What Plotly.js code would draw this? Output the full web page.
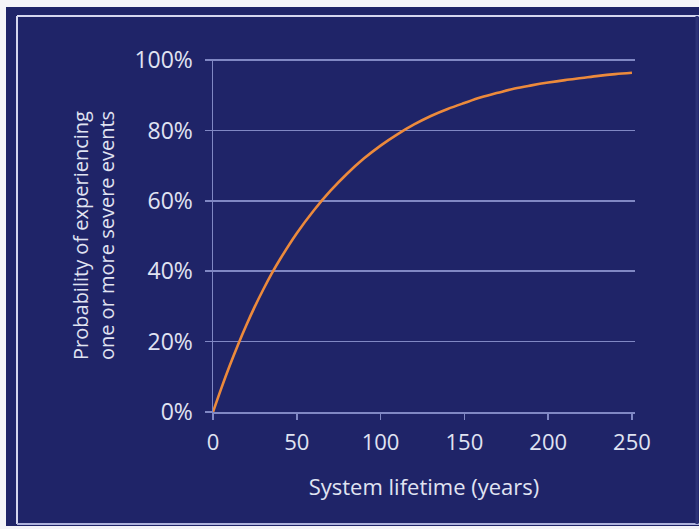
<!DOCTYPE html>
<html>
<head>
<meta charset="utf-8">
<script src="https://cdn.plot.ly/plotly-3.0.1.min.js"></script>
<style>
  html, body { margin: 0; padding: 0; background: #f4f4f8; width: 699px; height: 529px; overflow: hidden; }
  #chart { position: absolute; left: 6px; top: 7px; width: 693px; height: 519px; }
</style>
</head>
<body>
<div id="chart"></div>
<script>
// Values
const lifetimeYears = [0, 5, 10, 15, 20, 25, 30, 35, 40, 50, 60, 70, 80, 90, 100,
  110, 120, 130, 140, 150, 160, 170, 180, 190, 200, 210, 220, 230, 240, 250];
const probability = [0, 0.068, 0.132, 0.192, 0.248, 0.300, 0.348, 0.393, 0.434, 0.508,
  0.572, 0.628, 0.677, 0.720, 0.757, 0.789, 0.817, 0.841, 0.861, 0.878, 0.894, 0.907,
  0.919, 0.928, 0.936, 0.943, 0.949, 0.955, 0.960, 0.964];
const xTickVals = [0, 50, 100, 150, 200, 250];
const yTickVals = [0, 0.2, 0.4, 0.6, 0.8, 1.0];
const yTickText = ['0%', '20%', '40%', '60%', '80%', '100%'];
const xTitle = 'System lifetime (years)';
const yTitle = 'Probability of experiencing<br>one or more severe events';

const navy = '#1f2468';
const gridCol = '#8088c4';
const textCol = '#e0e3f2';
const W = 693, H = 519;
const M = { l: 207, r: 64, t: 52, b: 114 };
const pw = W - M.l - M.r, ph = H - M.t - M.b;
// frame line position (div pixels) -> paper coords
const px = v => (v - M.l) / pw;
const py = v => (H - M.b - v) / ph;
const frameL = 11, frameT = 9, frameB = 517, frameR = 691;

const trace = {
  x: lifetimeYears,
  y: probability,
  type: 'scatter',
  mode: 'lines',
  line: { color: '#ec8a3c', width: 2.6, shape: 'spline', smoothing: 1 },
  hoverinfo: 'x+y'
};

const layout = {
  width: W, height: H,
  margin: M,
  paper_bgcolor: navy,
  plot_bgcolor: navy,
  showlegend: false,
  font: { family: 'Open Sans, sans-serif', color: textCol, size: 22 },
  xaxis: {
    range: [0, 251.8],
    tickvals: xTickVals,
    ticktext: xTickVals.map(String),
    showgrid: false,
    zeroline: false,
    showline: true,
    linecolor: gridCol,
    linewidth: 1.5,
    ticks: 'outside',
    ticklen: 6,
    tickwidth: 1.5,
    tickcolor: gridCol,
    tickfont: { size: 22, color: textCol },
    ticklabelstandoff: 4,
    title: { text: xTitle, font: { size: 22, color: textCol }, standoff: 24 },
    fixedrange: true
  },
  yaxis: {
    range: [0, 1.003],
    tickvals: yTickVals,
    ticktext: yTickText,
    showgrid: true,
    gridcolor: gridCol,
    gridwidth: 1.5,
    zeroline: false,
    showline: true,
    linecolor: gridCol,
    linewidth: 1.5,
    ticks: 'outside',
    ticklen: 7,
    tickwidth: 1.5,
    tickcolor: gridCol,
    tickfont: { size: 23, color: textCol },
    ticklabelstandoff: 7,
    title: { text: yTitle, font: { size: 20, color: textCol }, standoff: 14 },
    fixedrange: true
  },
  shapes: [
    { type: 'line', xref: 'paper', yref: 'paper', x0: px(frameL), x1: px(frameL), y0: py(frameT), y1: py(frameB), line: { color: '#d4d6ee', width: 2 } },
    { type: 'line', xref: 'paper', yref: 'paper', x0: px(frameL), x1: px(W + 2), y0: py(frameT), y1: py(frameT), line: { color: '#d4d6ee', width: 2 } },
    { type: 'line', xref: 'paper', yref: 'paper', x0: px(frameL), x1: px(W + 2), y0: py(frameB), y1: py(frameB), line: { color: '#aeb2dc', width: 2 } },
    { type: 'line', xref: 'paper', yref: 'paper', x0: px(frameR), x1: px(frameR), y0: py(frameT), y1: py(frameB), line: { color: '#2c3276', width: 3 } }
  ]
};

Plotly.newPlot('chart', [trace], layout, { displayModeBar: false, staticPlot: true });
</script>
</body>
</html>
